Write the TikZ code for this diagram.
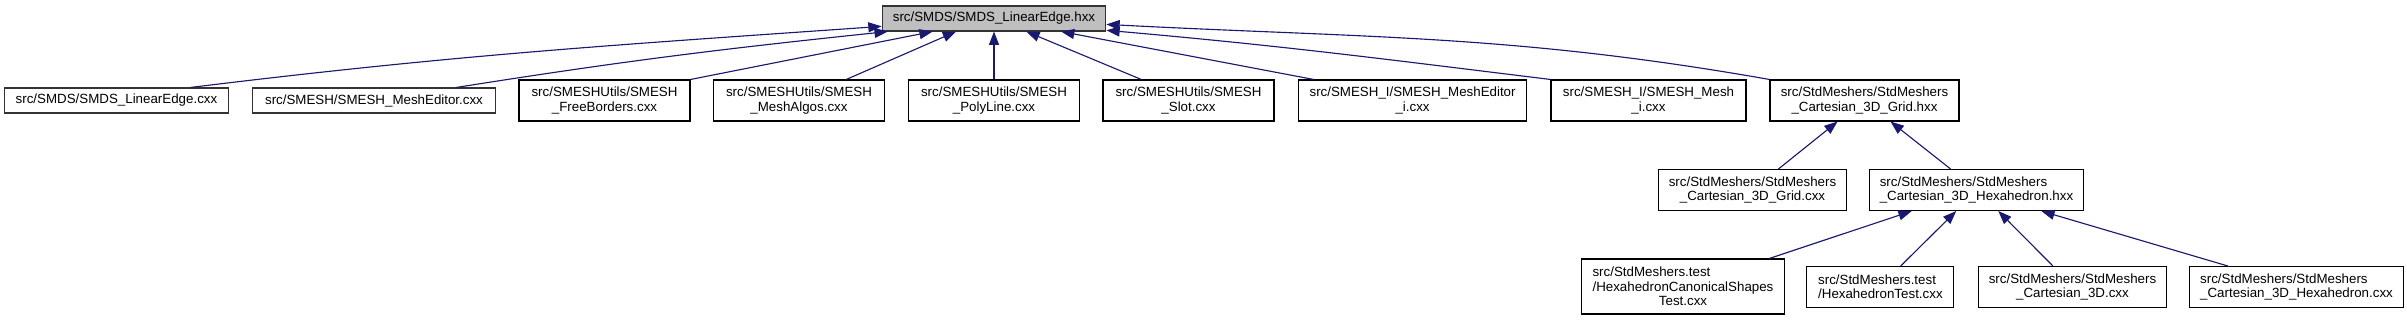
\documentclass[tikz,border=0pt]{standalone}
\usepackage{fontspec}
\usepackage{calc}
\setmainfont{Liberation Sans}
\usetikzlibrary{arrows.meta}
\definecolor{edgeblue}{HTML}{191970}
\definecolor{rootgrey}{HTML}{BFBFBF}

\begin{document}
\begin{tikzpicture}[x=0.75pt,y=0.75pt,
    every node/.style={font=\fontsize{10}{10.8}\selectfont},
    box/.style={draw=black,line width=0.8pt,fill=white,inner xsep=8pt,
      inner ysep=0pt,minimum height=30.75pt,align=center},
    oneline/.style={box,draw=black!80,minimum height=18.75pt},
    edge/.style={draw=edgeblue,line width=0.85pt,
      -{Triangle[length=10pt,width=7.5pt]}}]
    \useasboundingbox (0,0) rectangle (2407,-320);
    % header under inspection
    \node[oneline,fill=rootgrey,minimum width=167.25pt] (hxx) at (994,-18.5)
      {src/SMDS/SMDS\_LinearEdge.hxx};
    % files that include it
    \node[oneline,minimum width=168pt] (le) at (116.5,-100.5)
      {src/SMDS/SMDS\_LinearEdge.cxx};
    \node[oneline,minimum width=182.25pt] (med) at (374,-100.5)
      {src/SMESH/SMESH\_MeshEditor.cxx};
    \node[box,minimum width=128.25pt] (fb) at (604.5,-100.5)
      {src/SMESHUtils/SMESH\\\_FreeBorders.cxx};
    \node[box,minimum width=128.25pt] (ma) at (799,-100.5)
      {src/SMESHUtils/SMESH\\\_MeshAlgos.cxx};
    \node[box,minimum width=128.25pt] (pl) at (994,-100.5)
      {src/SMESHUtils/SMESH\\\_PolyLine.cxx};
    \node[box,minimum width=128.25pt] (slot) at (1188.5,-100.5)
      {src/SMESHUtils/SMESH\\\_Slot.cxx};
    \node[box,minimum width=171pt] (medi) at (1412.6,-100.5)
      {src/SMESH\_I/SMESH\_MeshEditor\\\_i.cxx};
    \node[box,minimum width=146.25pt] (meshi) at (1648.5,-100.5)
      {src/SMESH\_I/SMESH\_Mesh\\\_i.cxx};
    \node[box,minimum width=141.75pt] (gridh) at (1864.5,-100.5)
      {src/StdMeshers/StdMeshers\\\_Cartesian\_3D\_Grid.hxx};
    \node[box,minimum width=141pt] (gridc) at (1752.5,-190)
      {src/StdMeshers/StdMeshers\\\_Cartesian\_3D\_Grid.cxx};
    \node[box,align=left,minimum width=158.25pt] (hexh) at (1976.5,-190)
      {src/StdMeshers/StdMeshers\\\_Cartesian\_3D\_Hexahedron.hxx};
    \node[box,minimum width=149.25pt,minimum height=41.25pt] (canon) at (1683,-286.5)
      {\makebox[\widthof{/HexahedronCanonicalShapes}][l]{src/StdMeshers.test}\\
       /HexahedronCanonicalShapes\\Test.cxx};
    \node[box,align=left,minimum width=110.25pt] (hext) at (1880.4,-287)
      {src/StdMeshers.test\\/HexahedronTest.cxx};
    \node[box,minimum width=141pt] (c3d) at (2072.5,-287)
      {src/StdMeshers/StdMeshers\\\_Cartesian\_3D.cxx};
    \node[box,align=left,minimum width=158.25pt] (hexc) at (2296.5,-287)
      {src/StdMeshers/StdMeshers\\\_Cartesian\_3D\_Hexahedron.cxx};
    % include edges
    \draw[edge] (le.10) to[out=7,in=184] (hxx.184);
    \draw[edge] (med.9) to[out=9,in=186] (hxx.187);
    \draw[edge] (meshi.north west) to[out=173,in=-5] (hxx.354);
    \draw[edge] (gridh.north west) to[out=170,in=-3] (hxx.357);
    \foreach \src/\a/\b in {fb/north east/192,ma/24/199,pl/north/south,
        slot/156/338,medi/168/349}
      \draw[edge] (\src.\a) -- (hxx.\b);
    \foreach \src/\a/\b/\dst in {gridc/39/218/gridh,hexh/141/321/gridh,
        canon/18/198/hexh,hext/46/226/hexh,c3d/133/316/hexh,hexc/163/342/hexh}
      \draw[edge] (\src.\a) -- (\dst.\b);
\end{tikzpicture}
\end{document}
